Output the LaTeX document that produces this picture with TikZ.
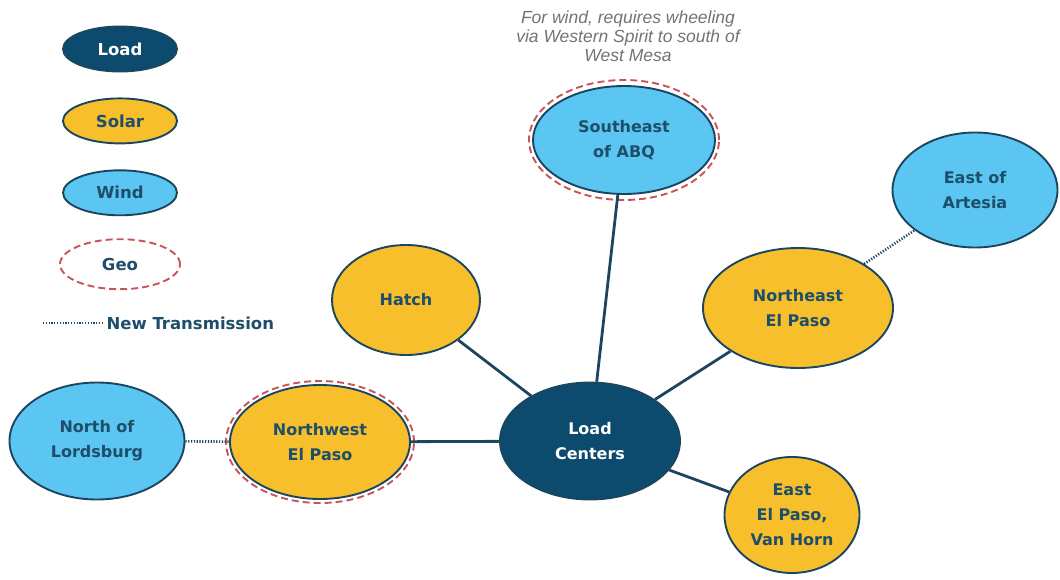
\documentclass[tikz,border=0pt]{standalone}
\usepackage{fontspec}
\setmainfont{DejaVu Sans}
\newfontfamily\notefont{Liberation Sans}
\usepackage{tikz}
\usetikzlibrary{shapes.geometric,positioning}
\definecolor{loadc}{HTML}{0C4A6E}
\definecolor{solarc}{HTML}{F8BF2C}
\definecolor{windc}{HTML}{5CC6F2}
\definecolor{edge}{HTML}{1C4660}
\definecolor{ink}{HTML}{1D4E6A}
\definecolor{geored}{HTML}{C8545A}

\begin{document}
\begin{tikzpicture}[x=1pt, y=-1pt, every node/.style={font=\bfseries\fontsize{16}{25}\selectfont, text=ink},
  blob/.style={ellipse, draw=edge, line width=1.9pt, align=center, inner sep=0pt},
  load/.style={blob, fill=loadc, text=white},
  solar/.style={blob, fill=solarc},
  wind/.style={blob, fill=windc},
  key/.style={minimum width=114pt, minimum height=45pt, font=\bfseries\fontsize{16.5}{18}\selectfont},
  georing/.style={draw=geored, line width=1.9pt, dash pattern=on 7pt off 4pt},
  link/.style={draw=edge, line width=2.8pt},
  newtx/.style={draw=edge, line width=2.6pt, dash pattern=on 1.2pt off 1.6pt}]
  \useasboundingbox (0,0) rectangle (1060,579);
  % legend
  \node[load, key] (kl) at (120,49) {Load};
  \node[solar, key, below=25pt of kl] (ks) {Solar};
  \node[wind, key, below=25pt of ks] (kw) {Wind};
  \node[ellipse, key, georing, minimum width=120pt, minimum height=50pt, below=22pt of kw] (kg) {Geo};
  \node[anchor=west, font=\bfseries\fontsize{16.5}{18}\selectfont] (nt) at (103,323) {New Transmission};
  \coordinate (ntl) at (43,323);
  \draw[newtx] (ntl) -- (nt.west);
  % sites
  \node[load, minimum width=180pt, minimum height=117pt] (lc) at (590,441) {Load\\Centers};
  \node[wind, minimum width=182pt, minimum height=108pt] (se) at (624,140) {Southeast\\of ABQ};
  \node[wind, minimum width=165pt, minimum height=115pt] (ea) at (975,190) {East of\\Artesia};
  \node[solar, minimum width=190pt, minimum height=120pt] (ne) at (798,308) {Northeast\\El Paso};
  \node[solar, minimum width=148pt, minimum height=110pt] (ha) at (406,300) {Hatch};
  \node[solar, minimum width=135pt, minimum height=116pt] (ee) at (792,515) {East\\El Paso,\\Van Horn};
  \node[wind, minimum width=175pt, minimum height=117pt] (nl) at (97,441) {North of\\Lordsburg};
  \node[solar, minimum width=180pt, minimum height=114pt] (nw) at (320,442) {Northwest\\El Paso};
  \draw[georing] (se.center) ellipse [x radius=95pt, y radius=60pt];
  \draw[georing] (nw.center) ellipse [x radius=94pt, y radius=61pt];
  \node[align=center, font=\notefont\itshape\fontsize{17.5}{19}\selectfont, text=black!55] (note) at (628,36)
    {For wind, requires wheeling\\via Western Spirit to south of\\West Mesa};
  % links
  \draw[link] (lc) -- (se);
  \draw[link] (lc) -- (ha);
  \draw[link] (lc) -- (ne);
  \draw[link] (lc) -- (nw);
  \draw[link] (lc) -- (ee);
  \draw[newtx] (nl) -- (nw);
  \draw[newtx] (ne) -- (ea);
\end{tikzpicture}
\end{document}
